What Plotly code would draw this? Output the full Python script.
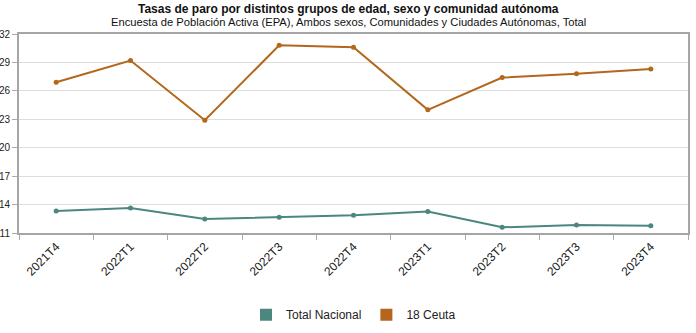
import plotly.graph_objects as go

categories = ["2021T4", "2022T1", "2022T2", "2022T3", "2022T4", "2023T1", "2023T2", "2023T3", "2023T4"]
total_nacional = [13.33, 13.65, 12.48, 12.67, 12.87, 13.26, 11.60, 11.84, 11.76]
ceuta = [26.9, 29.2, 22.9, 30.8, 30.6, 24.0, 27.4, 27.8, 28.3]
y_ticks = [11, 14, 17, 20, 23, 26, 29, 32]

TEAL = "#4b877e"
ORANGE = "#b3661c"
FONT = "Liberation Sans, Arial, sans-serif"

fig = go.Figure()
for name, vals, col in [("Total Nacional", total_nacional, TEAL), ("18 Ceuta", ceuta, ORANGE)]:
    fig.add_trace(go.Scatter(x=categories, y=vals, mode="lines+markers", name=name,
                             line=dict(color=col, width=2), marker=dict(color=col, size=5),
                             showlegend=False))
for name, col in [("Total Nacional", TEAL), ("18 Ceuta", ORANGE)]:
    fig.add_trace(go.Scatter(x=[None], y=[None], mode="markers", name=name,
                             marker=dict(symbol="square", size=13, color=col), showlegend=True))

fig.update_layout(
    width=696, height=333,
    margin=dict(l=19, r=8, t=34, b=100),
    paper_bgcolor="white", plot_bgcolor="white",
    font=dict(family=FONT, size=11, color="#222"),
    xaxis=dict(type="category", tickson="boundaries", ticks="outside", ticklen=5,
               tickcolor="#aaa", showgrid=False, showline=True, linecolor="#a5a5a5", linewidth=2,
               mirror=True, tickangle=-45, tickfont=dict(size=12, color="#222"),
               range=[-0.5, 8.5], automargin=False),
    yaxis=dict(range=[11, 32], tickvals=y_ticks, ticks="outside", ticklen=5, tickcolor="#aaa",
               showgrid=True, gridcolor="#dddddd", gridwidth=1, showline=True, linecolor="#a5a5a5",
               linewidth=2, mirror=True, tickfont=dict(size=10, color="#222"), zeroline=False,
               automargin=False),
    legend=dict(orientation="h", x=0.5, xanchor="center", yref="container", y=0.055,
                yanchor="middle", font=dict(size=12, color="#222"), itemsizing="constant",
                itemwidth=30, tracegroupgap=0),
    annotations=[
        dict(text="<b>Tasas de paro por distintos grupos de edad, sexo y comunidad autónoma</b>",
             xref="paper", yref="paper", x=0.492, y=1, yshift=25, showarrow=False,
             xanchor="center", yanchor="middle", font=dict(size=12, color="#111")),
        dict(text="Encuesta de Población Activa (EPA), Ambos sexos, Comunidades y Ciudades Autónomas, Total",
             xref="paper", yref="paper", x=0.492, y=1, yshift=12, showarrow=False,
             xanchor="center", yanchor="middle", font=dict(size=11.2, color="#111")),
    ],
)
fig.write_html("out.html")
